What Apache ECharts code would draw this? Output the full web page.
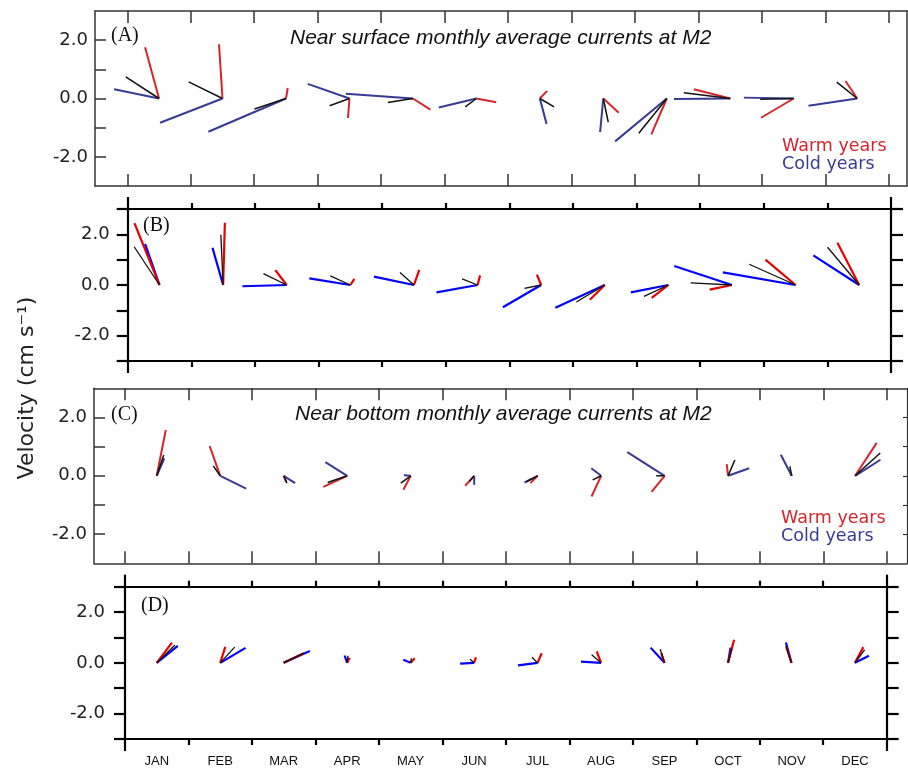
<!DOCTYPE html>
<html><head><meta charset="utf-8">
<script src="https://cdn.jsdelivr.net/npm/echarts@6/dist/echarts.min.js"></script>
<style>html,body{margin:0;padding:0;background:#fff}#c{width:908px;height:768px}</style>
</head><body><div id="c"></div>
<script>
// ---- tick labels / categories ----
const months = ['JAN','FEB','MAR','APR','MAY','JUN','JUL','AUG','SEP','OCT','NOV','DEC'];
const monthBoundaries = [0,1,2,3,4,5,6,7,8,9,10,11,12];
const monthCenters = [0.5,1.5,2.5,3.5,4.5,5.5,6.5,7.5,8.5,9.5,10.5,11.5];
const yTicks = [-2,-1,0,1,2];
const yTicksFull = [-3,-2,-1,0,1,2,3];
const yTickLabels = [-2,0,2];

// ---- data: [u, v] velocity components (cm/s) per month ----
// (A) near surface, period 1
const A_all  = [[-1.14,0.74],[-1.16,0.57],[-1.08,-0.36],[-0.68,-0.25],[-0.86,-0.14],[-0.38,-0.29],[0.49,-0.29],[0.17,-0.81],[-0.96,-1.19],[-1.59,0.20],[-1.15,-0.03],[-0.70,0.56]];
const A_warm = [[-0.48,1.76],[-0.12,1.86],[0.06,0.36],[-0.05,-0.67],[0.60,-0.38],[0.68,-0.13],[0.25,0.26],[0.53,-0.49],[-0.53,-1.23],[-1.25,0.32],[-1.12,-0.66],[-0.40,0.60]];
const A_cold = [[-1.54,0.32],[-2.14,-0.83],[-2.66,-1.14],[-1.43,0.50],[-2.30,0.16],[-1.29,-0.31],[0.23,-0.87],[-0.11,-1.15],[-1.77,-1.47],[-1.93,-0.02],[-1.71,0.03],[-1.67,-0.25]];
// (B) near surface, period 2
const B_all  = [[-1.00,1.51],[-0.09,1.98],[-0.92,0.45],[-0.79,0.36],[-0.55,0.49],[-0.61,0.24],[-0.66,-0.13],[-1.12,-0.67],[-0.96,-0.45],[-1.63,0.08],[-1.83,0.82],[-1.25,1.49]];
const B_warm = [[-0.99,2.44],[0.07,2.46],[-0.45,0.59],[0.16,0.24],[0.21,0.60],[0.10,0.38],[-0.17,0.41],[-0.59,-0.58],[-0.66,-0.51],[-0.88,-0.18],[-1.19,1.00],[-0.86,1.67]];
const B_cold = [[-0.57,1.62],[-0.42,1.47],[-1.75,-0.05],[-1.62,0.26],[-1.58,0.33],[-1.62,-0.29],[-1.51,-0.88],[-1.95,-0.90],[-1.48,-0.29],[-2.28,0.75],[-2.87,0.50],[-1.81,1.17]];
// (C) near bottom, period 1
const C_all  = [[0.24,0.71],[-0.24,0.34],[0.11,-0.25],[-0.67,-0.23],[-0.34,-0.25],[-0.17,-0.20],[-0.38,-0.20],[-0.29,-0.14],[-0.29,0.00],[0.23,0.54],[-0.06,0.32],[0.86,0.78]];
const C_warm = [[0.31,1.57],[-0.36,1.02],[0.08,-0.20],[-0.82,-0.38],[-0.25,-0.48],[-0.31,-0.34],[-0.25,-0.25],[-0.33,-0.71],[-0.45,-0.55],[-0.05,0.40],[-0.02,0.08],[0.74,1.13]];
const C_cold = [[0.26,0.60],[0.89,-0.44],[0.39,-0.25],[-0.75,0.47],[-0.23,0.02],[0.00,-0.31],[-0.45,-0.23],[-0.34,0.26],[-1.28,0.81],[0.72,0.26],[-0.37,0.72],[0.87,0.55]];
// (D) near bottom, period 2
const D_all  = [[0.72,0.70],[0.57,0.62],[0.79,0.38],[0.03,0.28],[0.03,0.18],[-0.16,0.14],[-0.22,0.22],[-0.37,0.32],[-0.17,0.54],[0.15,0.55],[-0.22,0.67],[0.38,0.51]];
const D_warm = [[0.60,0.80],[0.20,0.63],[0.79,0.38],[0.10,0.20],[0.16,0.18],[0.07,0.22],[0.16,0.38],[-0.17,0.45],[-0.13,0.38],[0.24,0.91],[-0.20,0.62],[0.33,0.62]];
const D_cold = [[0.83,0.67],[1.00,0.59],[1.03,0.47],[-0.10,0.29],[-0.29,0.12],[-0.55,-0.03],[-0.77,-0.10],[-0.79,0.05],[-0.55,0.60],[0.10,0.60],[-0.22,0.80],[0.55,0.28]];

// ---- styling ----
const RED1 = '#d4262c', BLUE1 = '#383b96';
const RED2 = '#e60000', BLUE2 = '#0000ff';
const FRAME1 = '#333', FRAME2 = '#000';

function sticks(xi, yi, pairs, color, width, z) {
  return {
    type: 'custom', coordinateSystem: 'cartesian2d', xAxisIndex: xi, yAxisIndex: yi,
    data: pairs.map((p, i) => [monthCenters[i], p[0], p[1]]),
    encode: { x: 0, y: 2 },
    clip: false, silent: true, animation: false, z: z,
    renderItem: function (params, api) {
      const x = api.value(0), u = api.value(1), v = api.value(2);
      const o = api.coord([x, 0]);
      const unit = api.size([0, 1])[1];
      const e = [o[0] + u * unit, api.coord([x, v])[1]];
      return { type: 'line', shape: { x1: o[0], y1: o[1], x2: e[0], y2: e[1] },
        style: { stroke: color, lineWidth: width, lineCap: 'butt' } };
    }
  };
}

function xAx(g, pos, min, max, ticks, len, inside, color, w, extra) {
  return Object.assign({
    gridIndex: g, type: 'value', position: pos, min: min, max: max,
    axisLine: { show: true, onZero: false, lineStyle: { color: color, width: w } },
    axisTick: { show: true, customValues: ticks, length: len, inside: inside, lineStyle: { color: color, width: w } },
    axisLabel: { show: false }, splitLine: { show: false }
  }, extra || {});
}
function yAx(g, pos, ticks, len, inside, color, w, labelMargin) {
  return {
    gridIndex: g, type: 'value', position: pos, min: -3, max: 3,
    axisLine: { show: true, onZero: false, lineStyle: { color: color, width: w } },
    axisTick: { show: ticks.length > 0, customValues: ticks, length: len, inside: inside, lineStyle: { color: color, width: w } },
    axisLabel: labelMargin == null ? { show: false } : {
      show: true, customValues: yTickLabels, formatter: v => v.toFixed(1),
      margin: labelMargin, fontSize: 18, fontFamily: 'DejaVu Sans', color: '#222'
    },
    splitLine: { show: false }
  };
}
const noLine = { axisLine: { show: false, onZero: false } };

const option = {
  backgroundColor: '#fff',
  animation: false,
  grid: [
    { left: 95, top: 11, width: 812, height: 175 },
    { left: 127.7, top: 209, width: 763.3, height: 152 },
    { left: 94, top: 388.3, width: 813, height: 175 },
    { left: 125, top: 586.7, width: 761.7, height: 152.6 }
  ],
  xAxis: [
    xAx(0, 'bottom', -0.509, 12.285, monthBoundaries, 12, true, FRAME1, 1.5),
    xAx(0, 'top', -0.509, 12.285, monthBoundaries, 12, true, FRAME1, 1.5),
    xAx(1, 'bottom', 0, 12, monthBoundaries.slice(1, 12), 6, false, FRAME2, 2.2),
    xAx(1, 'bottom', 0, 12, [0, 12], 12, false, FRAME2, 2.2, noLine),
    xAx(1, 'top', 0, 12, monthBoundaries.slice(1, 12), 6, false, FRAME2, 2.2),
    xAx(1, 'top', 0, 12, [0, 12], 12, false, FRAME2, 2.2, noLine),
    xAx(2, 'bottom', -0.488, 12.317, monthBoundaries, 12, true, FRAME1, 1.5),
    xAx(2, 'top', -0.488, 12.317, monthBoundaries, 12, true, FRAME1, 1.5),
    xAx(3, 'bottom', 0, 12, monthBoundaries.slice(1, 12), 6, false, FRAME2, 2.2, {
      axisLabel: { show: true, customValues: monthCenters, formatter: v => months[Math.floor(v)],
        margin: 16, fontSize: 13, fontFamily: 'Liberation Sans', color: '#111' }
    }),
    xAx(3, 'bottom', 0, 12, [0, 12], 12, false, FRAME2, 2.2, noLine),
    xAx(3, 'top', 0, 12, monthBoundaries.slice(1, 12), 6, false, FRAME2, 2.2),
    xAx(3, 'top', 0, 12, [0, 12], 12, false, FRAME2, 2.2, noLine)
  ],
  yAxis: [
    yAx(0, 'left', yTicks, 11, true, FRAME1, 1.5, 7),
    yAx(0, 'right', [], 0, true, FRAME1, 1.5, null),
    yAx(1, 'left', yTicksFull, 11, false, FRAME2, 2.2, 18),
    yAx(1, 'right', yTicksFull, 12, false, FRAME2, 2.2, null),
    yAx(2, 'left', yTicks, 11, true, FRAME1, 1.5, 7),
    yAx(2, 'right', yTicks, 4, true, FRAME1, 1.2, null),
    yAx(3, 'left', yTicksFull, 11, false, FRAME2, 2.2, 20),
    yAx(3, 'right', yTicksFull, 12, false, FRAME2, 2.2, null)
  ],
  series: [
    sticks(0, 0, A_cold, BLUE1, 2, 2), sticks(0, 0, A_warm, RED1, 2, 3), sticks(0, 0, A_all, '#111', 1.5, 4),
    sticks(2, 2, B_cold, BLUE2, 2.2, 2), sticks(2, 2, B_warm, RED2, 2.2, 3), sticks(2, 2, B_all, '#111', 1.3, 4),
    sticks(6, 4, C_cold, BLUE1, 2, 2), sticks(6, 4, C_warm, RED1, 2, 3), sticks(6, 4, C_all, '#111', 1.5, 4),
    sticks(8, 6, D_cold, BLUE2, 2.2, 2), sticks(8, 6, D_warm, RED2, 2.2, 3), sticks(8, 6, D_all, '#111', 1.3, 4)
  ],
  graphic: [
    { type: 'text', left: 111, top: 26, style: { text: '(A)', font: '20px "Liberation Serif"', fill: '#111' } },
    { type: 'text', left: 143, top: 216, style: { text: '(B)', font: '20px "Liberation Serif"', fill: '#111' } },
    { type: 'text', left: 111, top: 405, style: { text: '(C)', font: '20px "Liberation Serif"', fill: '#111' } },
    { type: 'text', left: 141, top: 596, style: { text: '(D)', font: '20px "Liberation Serif"', fill: '#111' } },
    { type: 'text', left: 290, top: 28, style: { text: 'Near surface monthly average currents at M2', font: 'italic 21px "Liberation Sans"', fill: '#111' } },
    { type: 'text', left: 295, top: 404, style: { text: 'Near bottom monthly average currents at M2', font: 'italic 21px "Liberation Sans"', fill: '#111' } },
    { type: 'text', left: 782, top: 137, style: { text: 'Warm years', font: '17.5px "DejaVu Sans"', fill: RED1 } },
    { type: 'text', left: 782, top: 155, style: { text: 'Cold years', font: '17.5px "DejaVu Sans"', fill: BLUE1 } },
    { type: 'text', left: 781, top: 509, style: { text: 'Warm years', font: '17.5px "DejaVu Sans"', fill: RED1 } },
    { type: 'text', left: 781, top: 527, style: { text: 'Cold years', font: '17.5px "DejaVu Sans"', fill: BLUE1 } },
    { type: 'text', x: 27, y: 388, rotation: Math.PI / 2,
      style: { text: 'Velocity (cm s\u207B\u00B9)', font: '22px "DejaVu Sans"', fill: '#222', align: 'center', verticalAlign: 'middle' } }
  ]
};
const chart = echarts.init(document.getElementById('c'), null, { renderer: 'canvas' });
chart.setOption(option);
</script></body></html>
